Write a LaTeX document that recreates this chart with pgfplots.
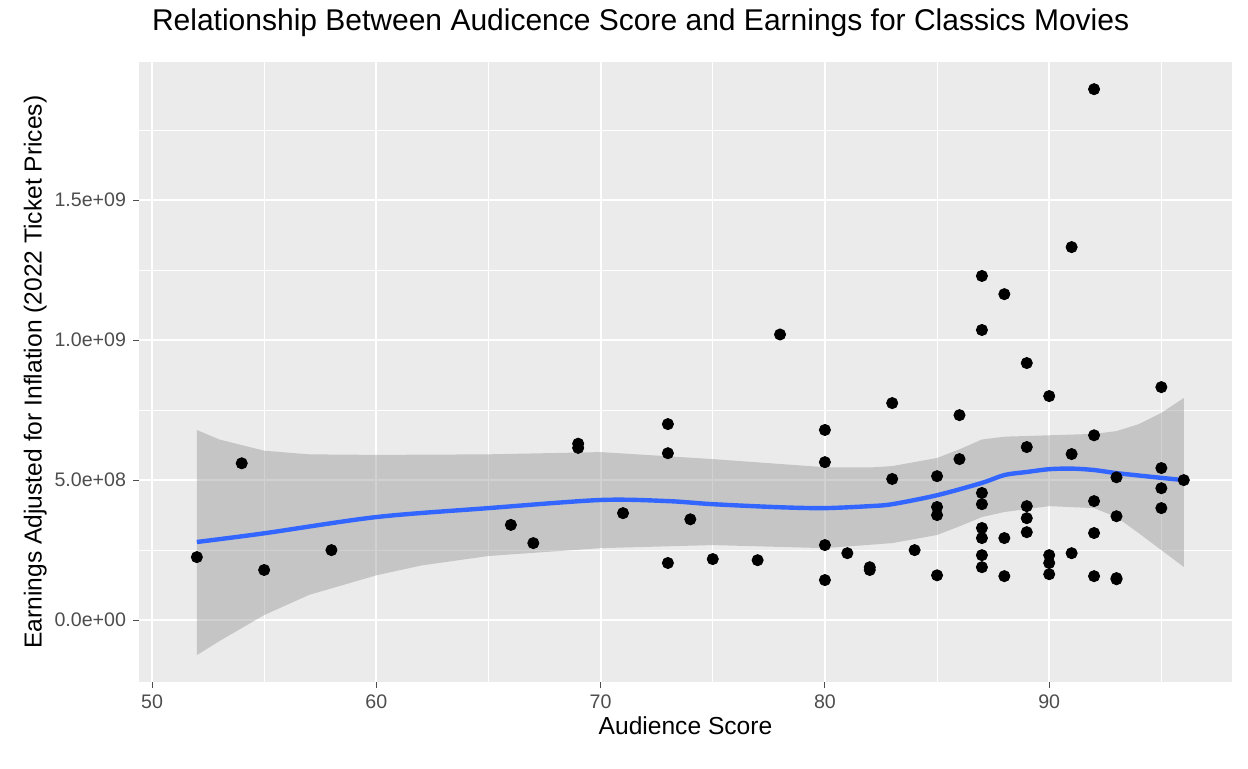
\documentclass[border=0pt]{standalone}
\usepackage{pgfplots}
\pgfplotsset{compat=1.18}
\usepackage{fontspec}
\setmainfont{Liberation Sans}
\definecolor{panel}{HTML}{EBEBEB}
\definecolor{smooth}{HTML}{3366FF}
\definecolor{tickc}{HTML}{4D4D4D}
\begin{document}
\begin{tikzpicture}[x=1pt,y=1pt]
\clip (-69.5,-43) rectangle (554.5,341);
\useasboundingbox (-69.5,-43) rectangle (554.5,341);
\begin{axis}[
  at={(0,0)}, anchor=south west,
  scale only axis, width=546.5pt, height=310pt,
  xmin=49.42, xmax=98.15, ymin=-2.21, ymax=19.93,
  axis background/.style={fill=panel},
  axis line style={draw=none},
  xtick pos=bottom, ytick pos=left,
  xtick={50,60,70,80,90}, minor xtick={55,65,75,85,95},
  ytick={0,5,10,15}, minor ytick={-2.5,2.5,7.5,12.5,17.5},
  yticklabels={0.0e+00,5.0e+08,1.0e+09,1.5e+09},
  grid=both,
  major grid style={white, line width=0.9pt},
  minor grid style={white, line width=0.45pt},
  tick align=outside, major tick length=3pt, minor tick length=0pt,
  tick style={tickc, line width=0.5pt},
  ticklabel style={font=\fontsize{9.8}{11}\selectfont, text=tickc},
  /pgf/number format/assume math mode=true,
  xlabel={Audience Score}, ylabel={Earnings Adjusted for Inflation (2022 Ticket Prices)},
  label style={font=\fontsize{12.3}{14}\selectfont},
  xlabel style={yshift=3pt}, ylabel style={yshift=-3pt},
  title={Relationship Between Audicence Score and Earnings for Classics Movies},
  title style={font=\fontsize{15}{18}\selectfont, anchor=south west, at={(0,1)}, xshift=3pt, yshift=3pt},
]
\addplot[only marks, mark=*, mark size=2.8pt, black] coordinates {
(52,2.25)(54,5.6)(55,1.79)(58,2.5)(66,3.4)(67,2.75)(69,6.3)(69,6.15)(71,3.82)
(73,7.0)(73,5.96)(73,2.04)(74,3.6)(75,2.18)(77,2.14)(78,10.2)
(80,6.79)(80,5.64)(80,2.68)(80,1.43)(81,2.39)(82,1.89)(82,1.79)(83,7.75)(83,5.04)(84,2.5)
(85,5.14)(85,4.04)(85,3.75)(85,1.6)(86,7.32)(86,5.75)
(87,12.29)(87,10.36)(87,4.54)(87,4.14)(87,3.29)(87,2.93)(87,2.32)(87,1.89)
(88,11.64)(88,2.93)(88,1.57)
(89,9.18)(89,6.18)(89,4.07)(89,3.64)(89,3.14)
(90,8.0)(90,2.32)(90,2.04)(90,1.64)
(91,13.32)(91,5.93)(91,2.39)
(92,18.96)(92,6.6)(92,4.25)(92,3.11)(92,1.57)
(93,5.1)(93,3.71)(93,1.5)(93,1.46)
(95,8.32)(95,5.43)(95,4.71)(95,4.0)(96,5.0)
};
\addplot[draw=none, fill=black!45, fill opacity=0.4] coordinates {
(52,6.79)(53,6.45)(55,6.05)(57,5.92)(60,5.9)(65,5.92)(70,6.0)(75,5.75)(80,5.46)(82,5.45)(83,5.5)(85,5.79)(86,6.1)(87,6.45)(88,6.55)(90,6.6)(92,6.65)(93,6.75)(94,7.0)(95,7.4)(96,7.93)
(96,1.9)(95,2.5)(94,3.1)(93,3.68)(92,4.0)(90,4.07)(88,3.86)(87,3.68)(86,3.35)(85,3.04)(83,2.75)(80,2.57)(75,2.68)(70,2.57)(65,2.29)(62,1.95)(60,1.6)(57,0.9)(55,0.18)(53,-0.75)(52,-1.25)
} -- cycle;
\addplot[smooth, color=smooth, line width=2.2pt, tension=0.5] coordinates {
(52,2.79)(55,3.1)(60,3.68)(65,4.0)(70,4.29)(73,4.25)(75,4.14)(78,4.03)(80,4.0)(82,4.07)(83,4.14)(85,4.46)(87,4.9)(88,5.18)(89,5.29)(90,5.39)(91,5.41)(92,5.36)(93,5.25)(95,5.08)(96,5.0)
};
\end{axis}
\end{tikzpicture}
\end{document}
